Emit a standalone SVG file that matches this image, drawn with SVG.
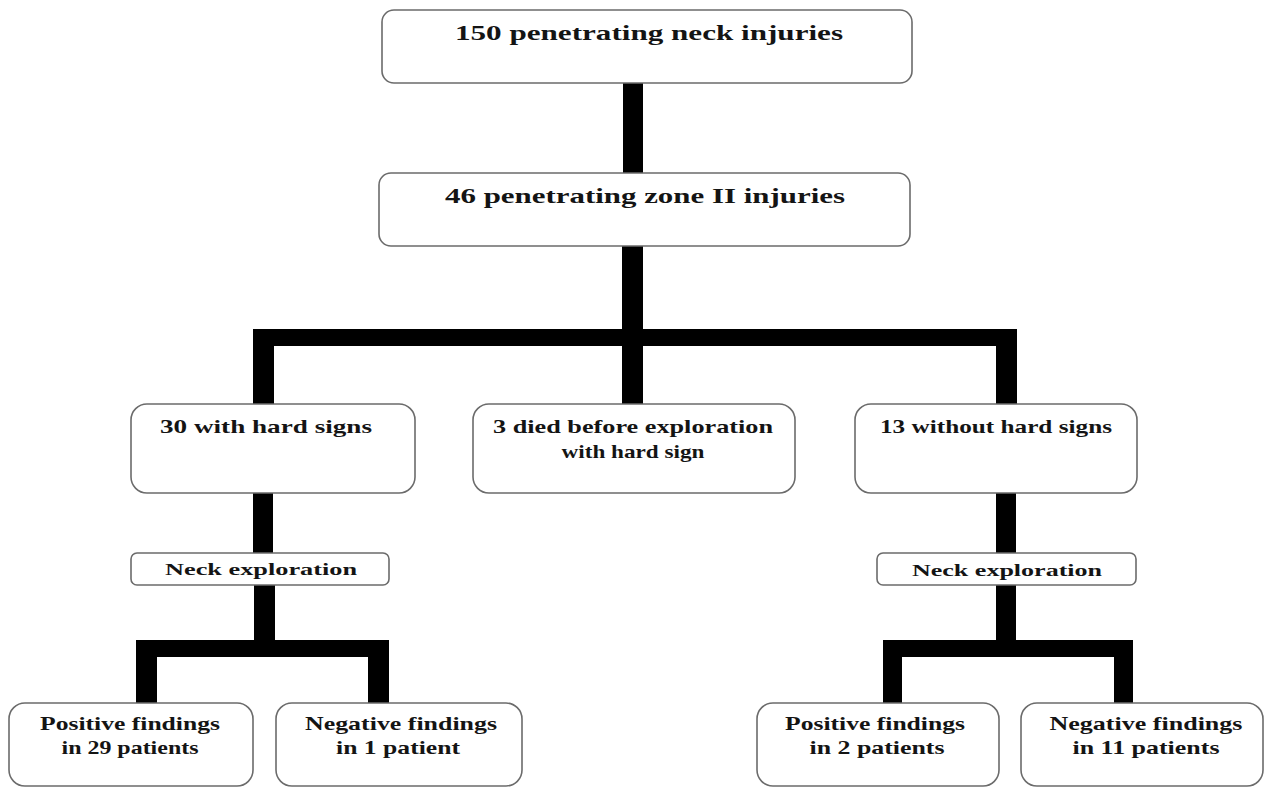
<svg xmlns="http://www.w3.org/2000/svg" width="1265" height="788" viewBox="0 0 1265 788">
<style>
.box{fill:#fff;stroke:#6b6b6b;stroke-width:1.6}
.t{font-family:"Liberation Serif","Times New Roman",serif;font-weight:bold;fill:#141414;text-anchor:middle}
.f21{font-size:21px}
.f19{font-size:19px}
.f16{font-size:16px}
.conn rect{fill:#000}
</style>
<rect width="1265" height="788" fill="#fff"/>
<g id="connectors" class="conn">
<rect x="623" y="83" width="20" height="90"/>
<rect x="622" y="246" width="21" height="158"/>
<rect x="253" y="329" width="764" height="17"/>
<rect x="253" y="329" width="21" height="75"/>
<rect x="996" y="329" width="21" height="75"/>
<rect x="253" y="493" width="20" height="60"/>
<rect x="254" y="585" width="21" height="60"/>
<rect x="136" y="640" width="253" height="17"/>
<rect x="136" y="640" width="21" height="63"/>
<rect x="368" y="640" width="21" height="63"/>
<rect x="996" y="493" width="20" height="60"/>
<rect x="996" y="585" width="20" height="60"/>
<rect x="883" y="640" width="250" height="17"/>
<rect x="883" y="640" width="19" height="63"/>
<rect x="1114" y="640" width="19" height="63"/>
</g>
<g id="n1"><rect class="box" x="382" y="10" width="530" height="73" rx="12"/>
<text class="t f21" x="649" y="40" textLength="388" lengthAdjust="spacingAndGlyphs">150 penetrating neck injuries</text></g>
<g id="n2"><rect class="box" x="379" y="173" width="531" height="73" rx="12"/>
<text class="t f21" x="645" y="203" textLength="400" lengthAdjust="spacingAndGlyphs">46 penetrating zone II injuries</text></g>
<g id="n3"><rect class="box" x="131" y="404" width="284" height="89" rx="16"/>
<text class="t f19" x="266" y="433" textLength="212" lengthAdjust="spacingAndGlyphs">30 with hard signs</text></g>
<g id="n4"><rect class="box" x="473" y="404" width="322" height="89" rx="16"/>
<text class="t f19" x="633" y="433" textLength="280" lengthAdjust="spacingAndGlyphs">3 died before exploration</text>
<text class="t f19" x="633" y="458" textLength="143" lengthAdjust="spacingAndGlyphs">with hard sign</text></g>
<g id="n5"><rect class="box" x="855" y="404" width="282" height="89" rx="16"/>
<text class="t f19" x="996" y="433" textLength="232" lengthAdjust="spacingAndGlyphs">13 without hard signs</text></g>
<g id="n6"><rect class="box" x="131" y="553" width="258" height="32" rx="6"/>
<text class="t f16" x="261" y="575" textLength="192" lengthAdjust="spacingAndGlyphs">Neck exploration</text></g>
<g id="n7"><rect class="box" x="877" y="553" width="259" height="32" rx="6"/>
<text class="t f16" x="1007" y="576" textLength="190" lengthAdjust="spacingAndGlyphs">Neck exploration</text></g>
<g id="n8"><rect class="box" x="9" y="703" width="244" height="83" rx="16"/>
<text class="t f19" x="130" y="730" textLength="180" lengthAdjust="spacingAndGlyphs">Positive findings</text>
<text class="t f19" x="130" y="754" textLength="137" lengthAdjust="spacingAndGlyphs">in 29 patients</text></g>
<g id="n9"><rect class="box" x="276" y="703" width="246" height="83" rx="16"/>
<text class="t f19" x="401" y="730" textLength="192" lengthAdjust="spacingAndGlyphs">Negative findings</text>
<text class="t f19" x="398" y="754" textLength="124" lengthAdjust="spacingAndGlyphs">in 1 patient</text></g>
<g id="n10"><rect class="box" x="757" y="703" width="242" height="83" rx="16"/>
<text class="t f19" x="875" y="730" textLength="180" lengthAdjust="spacingAndGlyphs">Positive findings</text>
<text class="t f19" x="877" y="754" textLength="135" lengthAdjust="spacingAndGlyphs">in 2 patients</text></g>
<g id="n11"><rect class="box" x="1021" y="703" width="242" height="83" rx="16"/>
<text class="t f19" x="1146" y="730" textLength="193" lengthAdjust="spacingAndGlyphs">Negative findings</text>
<text class="t f19" x="1146" y="754" textLength="147" lengthAdjust="spacingAndGlyphs">in 11 patients</text></g>
</svg>
